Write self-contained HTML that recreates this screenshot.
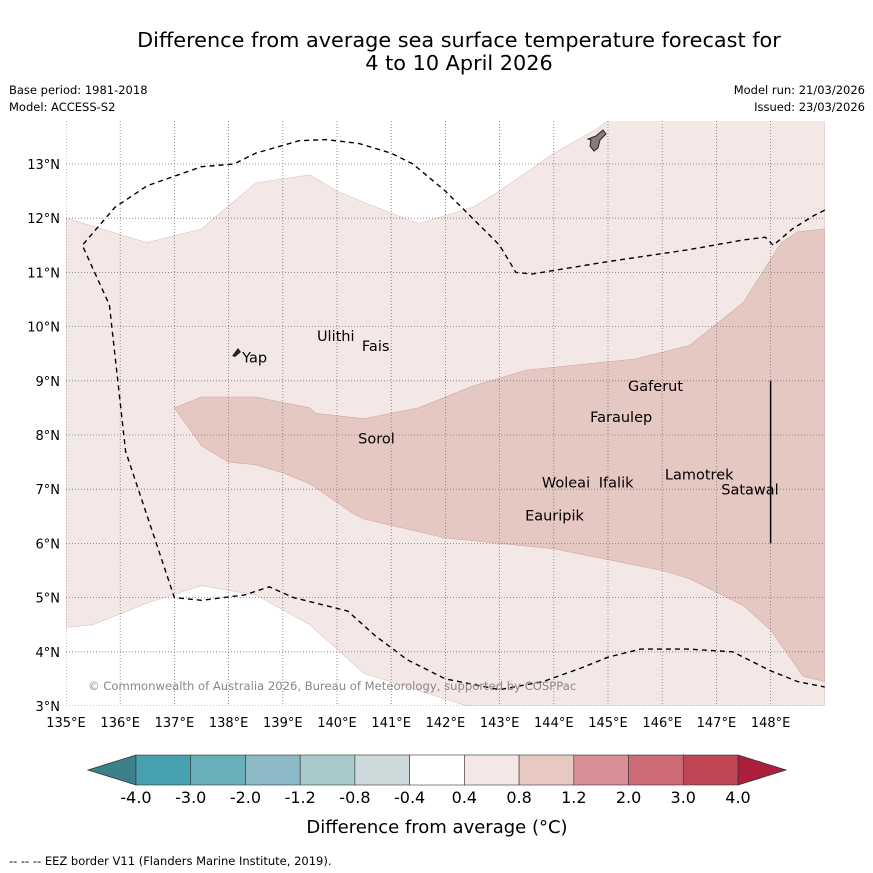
<!DOCTYPE html>
<html><head><meta charset="utf-8"><style>
body{margin:0;background:#fff;width:873px;height:873px;overflow:hidden;font-family:"Liberation Sans","DejaVu Sans",sans-serif}
svg{position:absolute;left:0;top:0}
</style></head><body>
<svg width="873" height="873" font-family="DejaVu Sans, Liberation Sans, sans-serif">
<text x="459" y="47" text-anchor="middle" font-size="20.8">Difference from average sea surface temperature forecast for</text>
<text x="459" y="70" text-anchor="middle" font-size="20.8">4 to 10 April 2026</text>
<text x="9" y="94" font-size="11.5">Base period: 1981-2018</text>
<text x="9" y="111" font-size="11.5">Model: ACCESS-S2</text>
<text x="865" y="94" font-size="11.5" text-anchor="end">Model run: 21/03/2026</text>
<text x="865" y="111" font-size="11.5" text-anchor="end">Issued: 23/03/2026</text>
<g id="map"></g>
<g id="cbar"></g>
<text x="437" y="833" text-anchor="middle" font-size="18">Difference from average (°C)</text>
<text x="9" y="865" font-size="11.5">--  --  -- EEZ border V11 (Flanders Marine Institute, 2019).</text>
</svg>
<script>
const lonTicks=[135,136,137,138,139,140,141,142,143,144,145,146,147,148];
const latTicks=[3,4,5,6,7,8,9,10,11,12,13];
const lightUpper=[[135,12.0],[136.5,11.55],[137.5,11.8],[138.5,12.65],[139.5,12.8],[140,12.5],[140.6,12.25],[141.5,11.9],[142.5,12.2],[143,12.5],[144,13.2],[144.8,13.65],[145,13.8],[149,13.8]];
const lightLower=[[149,3],[142.4,3.0],[141.3,3.35],[140.5,3.6],[139.5,4.5],[138.5,5.05],[137.5,5.22],[136.5,4.9],[135.5,4.5],[135,4.45]];
const darkRegion=[[137,8.5],[137.5,8.7],[138.5,8.7],[139.5,8.5],[139.6,8.4],[140.5,8.3],[141.5,8.5],[142.5,8.9],[143.5,9.2],[145.5,9.4],[146.5,9.65],[147.5,10.45],[148.2,11.55],[148.5,11.75],[149,11.8],[149,3.45],[148.6,3.55],[148,4.4],[147.5,4.85],[146.5,5.35],[146,5.5],[145.5,5.6],[144,5.9],[143,6.0],[142,6.1],[140.5,6.45],[140.3,6.55],[139.5,7.1],[139,7.3],[138.5,7.45],[138,7.5],[137.5,7.8]];
const eezWest=[[149,12.15],[148.8,12.05],[148.4,11.8],[148.05,11.5],[147.9,11.65],[147.5,11.6],[146.5,11.42],[145,11.2],[143.6,10.97],[143.3,11.0],[143,11.5],[142.5,12.0],[142,12.5],[141.4,13.0],[141,13.2],[140.4,13.38],[139.8,13.45],[139.3,13.43],[138.5,13.2],[138.1,13.0],[137.5,12.95],[136.5,12.6],[135.9,12.2],[135.3,11.5],[135.8,10.4],[136.1,7.7],[137,5.0],[137.5,4.95],[138.3,5.05],[138.75,5.2],[139.2,5.0],[139.8,4.85],[140.2,4.75],[140.7,4.3],[141.3,3.85],[142,3.5],[143,3.3],[143.8,3.45],[144.5,3.7],[145,3.9],[145.6,4.05],[146.5,4.05],[147.3,4.0],[148,3.65],[148.5,3.45],[149,3.35]];
const islandNames=["Ulithi","Fais","Yap","Gaferut","Faraulep","Sorol","Woleai","Ifalik","Lamotrek","Satawal","Eauripik"];
const islandLon=[139.63,140.46,138.25,145.37,144.67,140.39,143.78,144.83,146.05,147.09,143.47];
const islandLat=[9.73,9.55,9.34,8.81,8.24,7.84,7.03,7.03,7.18,6.90,6.42];
const cbBounds=["-4.0","-3.0","-2.0","-1.2","-0.8","-0.4","0.4","0.8","1.2","2.0","3.0","4.0"];
const cbColors=["#47a1b1","#69aebb","#8bb9c5","#aac9cd","#cdd9da","#ffffff","#f4e7e5","#e7c8c2","#d88e95","#cc6b76","#c04656"];
const NS="http://www.w3.org/2000/svg";
const X=lon=>66+(lon-135)*54.2, Y=lat=>706-(lat-3)*54.2;
function mk(p,t,a){const e=document.createElementNS(NS,t);for(const k in a)e.setAttribute(k,a[k]);p.appendChild(e);return e;}
const map=document.getElementById('map');
mk(map,'defs',{}).innerHTML='<clipPath id="cp"><rect x="66" y="121" width="759" height="585"/></clipPath>';
const g=mk(map,'g',{'clip-path':'url(#cp)'});
const pts=a=>a.map(p=>X(p[0]).toFixed(1)+','+Y(p[1]).toFixed(1)).join(' ');
let e=mk(g,'polygon',{points:pts(lightUpper.concat(lightLower)),fill:'#f4e8e7',stroke:'#d9c4c2','stroke-width':0.6});

e=mk(g,'polygon',{points:pts(darkRegion),fill:'#e6c8c3',stroke:'#cfa9a3','stroke-width':0.6});

lonTicks.forEach(l=>{const ln=mk(g,'line',{x1:X(l),x2:X(l),y1:121,y2:706,stroke:'#777','stroke-width':0.8,'stroke-dasharray':'1,2'});
});
latTicks.forEach(l=>{const ln=mk(g,'line',{x1:66,x2:825,y1:Y(l),y2:Y(l),stroke:'#777','stroke-width':0.8,'stroke-dasharray':'1,2'});
});
e=mk(g,'polyline',{points:pts(eezWest),fill:'none',stroke:'#000','stroke-width':1.4,'stroke-dasharray':'5,4'});

e=mk(g,'line',{x1:X(148),x2:X(148),y1:Y(9),y2:Y(6),stroke:'#000','stroke-width':1.5});

e=mk(g,'path',{d:'M603,130 L606,134 L600,140 L598,148 L594,151 L590,146 L591,140 L588,139 L596,136 Z',fill:'#8a7a7a',stroke:'#222','stroke-width':1});

e=mk(g,'path',{d:'M238,348 L241,352 L235,357 L232,356 Z',fill:'#222'});

islandNames.forEach((n,i)=>{const t=mk(g,'text',{x:X(islandLon[i]),y:Y(islandLat[i]),'font-size':14.5});t.textContent=n;
});
e=mk(g,'text',{x:88,y:690,'font-size':11.6,fill:'#888'});e.textContent='© Commonwealth of Australia 2026, Bureau of Meteorology, supported by COSPPac';

lonTicks.forEach(l=>{const t=mk(map,'text',{x:X(l),y:727,'font-size':13,'text-anchor':'middle'});t.textContent=l+'°E';
});
latTicks.forEach(l=>{const t=mk(map,'text',{x:60,y:Y(l)+5,'font-size':13,'text-anchor':'end'});t.textContent=l+'°N';
});
const cb=document.getElementById('cbar');
const cx0=136,cw=602/cbColors.length,cy=755,ch=30;
e=mk(cb,'polygon',{points:`${cx0},${cy} ${cx0},${cy+ch} 88,${cy+ch/2}`,fill:'#3c808c',stroke:'#333','stroke-width':0.8});

e=mk(cb,'polygon',{points:`${cx0+602},${cy} ${cx0+602},${cy+ch} 786,${cy+ch/2}`,fill:'#ab1e3c',stroke:'#333','stroke-width':0.8});

cbColors.forEach((c,i)=>{const r=mk(cb,'rect',{x:cx0+i*cw,y:cy,width:cw,height:ch,fill:c,stroke:'#333','stroke-width':0.6});
});
cbBounds.forEach((b,i)=>{const t=mk(cb,'text',{x:cx0+i*cw,y:803,'font-size':16,'text-anchor':'middle'});t.textContent=b;
});
</script>
</body></html>
